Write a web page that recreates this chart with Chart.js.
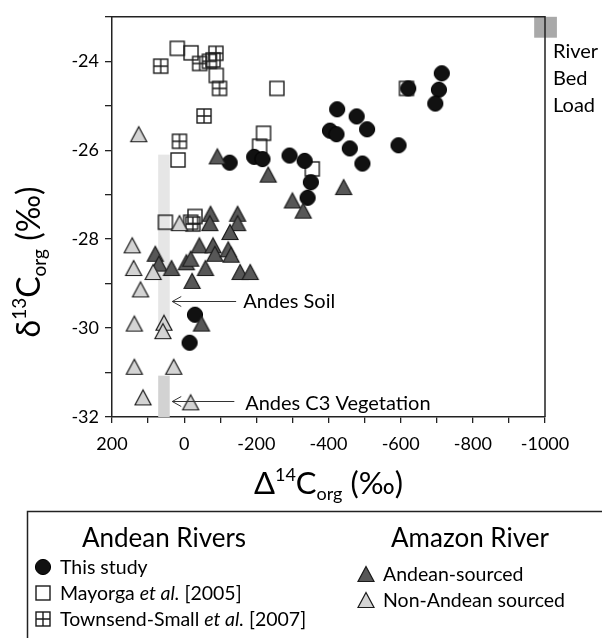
<!DOCTYPE html>
<html>
<head>
<meta charset="utf-8">
<script src="https://cdn.jsdelivr.net/npm/chart.js@4.4.0/dist/chart.umd.min.js"></script>
<style>
  html, body { margin: 0; padding: 0; background: #fff; }
  #wrap { position: relative; width: 602px; height: 638px; }
</style>
</head>
<body>
<div id="wrap"><canvas id="chart" width="602" height="638"></canvas></div>
<script>
// Δ14C (x) / δ13C (y) of organic carbon, both in ‰
const thisStudyD14C = [-126, -194, -217, -292, -334, -351, -342, -424, -478, -507, -404, -422, -459, -494, -594, -621, -714, -706, -696, -30, -15];
const thisStudyD13C = [-26.28, -26.15, -26.2, -26.12, -26.24, -26.72, -27.07, -25.08, -25.24, -25.53, -25.56, -25.64, -25.96, -26.3, -25.89, -24.61, -24.27, -24.64, -24.95, -29.7, -30.33];

const mayorgaD14C = [19, -19, -80, -89, -257, -220, -209, 17, -355, -616, 52, -30, -18];
const mayorgaD13C = [-23.71, -23.81, -23.97, -24.32, -24.61, -25.62, -25.91, -26.22, -26.42, -24.61, -27.62, -27.49, -27.62];

const townsendD14C = [65, -43, -70, -88, -98, -55, 13, -24];
const townsendD13C = [-24.11, -24.05, -24.0, -23.82, -24.61, -25.23, -25.8, -27.66];

const andeanSourcedD14C = [-92, -233, -300, -330, -442, -73, -71, -148, -148, -127, -42, -80, -85, -122, -130, 80, 70, 35, -6, -18, -59, -155, -183, -22, -48];
const andeanSourcedD13C = [-26.14, -26.55, -27.13, -27.36, -26.83, -27.43, -27.64, -27.43, -27.64, -27.84, -28.14, -28.14, -28.33, -28.23, -28.35, -28.33, -28.55, -28.65, -28.52, -28.44, -28.65, -28.74, -28.74, -28.94, -29.9];

const nonAndeanD14C = [126, 13, 144, 140, 86, 121, 138, 56, 59, 138, 29, 114, -18];
const nonAndeanD13C = [-25.64, -27.64, -28.14, -28.65, -28.74, -29.13, -29.9, -29.88, -30.07, -30.87, -30.87, -31.56, -31.67];

// end-member ranges [Δ14C from, to] and [δ13C from, to]
const andesSoilD14C = [72, 40];
const andesSoilD13C = [-26.1, -30.0];
const andesC3D14C = [72, 40];
const andesC3D13C = [-31.07, -32.0];
const bedLoadD14C = [-970, -1033];
const bedLoadD13C = [-23.0, -23.47];

// axis ranges
const xMin = -1000, xMax = 200;
const yMin = -32, yMax = -23;

const FONT = 'Lato, "Open Sans", sans-serif';

function zip(xs, ys) {
  return xs.map((x, i) => ({ x: x, y: ys[i] }));
}

// marker images used as pointStyle
function makeMarker(kind) {
  const c = document.createElement('canvas');
  c.width = 20; c.height = 20;
  const g = c.getContext('2d');
  if (kind === 'circle') {
    g.beginPath();
    g.arc(10, 10, 7.6, 0, Math.PI * 2);
    g.fillStyle = '#111';
    g.fill();
    g.lineWidth = 1;
    g.strokeStyle = '#000';
    g.stroke();
  } else if (kind === 'square' || kind === 'plus') {
    g.lineWidth = 1.4;
    g.strokeStyle = '#1a1a1a';
    g.strokeRect(3, 3, 14, 14);
    if (kind === 'plus') {
      g.beginPath();
      g.moveTo(10, 3); g.lineTo(10, 17);
      g.moveTo(3, 10); g.lineTo(17, 10);
      g.stroke();
    }
  } else {
    g.beginPath();
    g.moveTo(10, 2.5);
    g.lineTo(18, 17.5);
    g.lineTo(2, 17.5);
    g.closePath();
    g.fillStyle = kind === 'dark' ? '#575757' : '#d4d4d4';
    g.fill();
    g.lineWidth = 1.2;
    g.strokeStyle = '#1a1a1a';
    g.stroke();
  }
  return c;
}

const markers = {
  circle: makeMarker('circle'),
  square: makeMarker('square'),
  plus: makeMarker('plus'),
  dark: makeMarker('dark'),
  light: makeMarker('light')
};

// text with super/subscripts, runs = [{t, size, dy, italic}]
function drawRuns(ctx, runs, x, y, align) {
  let total = 0;
  runs.forEach(r => {
    ctx.font = (r.italic ? 'italic ' : '') + r.size + 'px ' + FONT;
    r.w = ctx.measureText(r.t).width;
    total += r.w;
  });
  let cx = align === 'center' ? x - total / 2 : x;
  ctx.textAlign = 'left';
  ctx.textBaseline = 'alphabetic';
  runs.forEach(r => {
    ctx.font = (r.italic ? 'italic ' : '') + r.size + 'px ' + FONT;
    ctx.fillText(r.t, cx, y + (r.dy || 0));
    cx += r.w;
  });
}

// shaded ranges and the frame around the plot
const rangesPlugin = {
  id: 'ranges',
  beforeDatasetsDraw(chart) {
    const { ctx, scales: { x, y }, chartArea } = chart;
    const box = (xs, ys, color) => {
      const x0 = x.getPixelForValue(xs[0]), x1 = x.getPixelForValue(xs[1]);
      const y0 = y.getPixelForValue(ys[0]), y1 = y.getPixelForValue(ys[1]);
      ctx.fillStyle = color;
      ctx.fillRect(Math.min(x0, x1), Math.min(y0, y1), Math.abs(x1 - x0), Math.abs(y1 - y0));
    };
    ctx.save();
    box(andesSoilD14C, andesSoilD13C, '#e6e6e6');
    box(andesC3D14C, andesC3D13C, '#d2d2d2');
    box(bedLoadD14C, bedLoadD13C, '#a9a9a9');
    // top and right frame lines
    ctx.strokeStyle = '#222';
    ctx.lineWidth = 1.5;
    ctx.beginPath();
    ctx.moveTo(chartArea.left, chartArea.top);
    ctx.lineTo(chartArea.right, chartArea.top);
    ctx.lineTo(chartArea.right, chartArea.bottom);
    ctx.stroke();
    ctx.restore();
  }
};

// arrows, labels, axis titles and legend
const labelsPlugin = {
  id: 'labels',
  afterDraw(chart) {
    const { ctx, scales: { x, y }, chartArea } = chart;
    ctx.save();
    ctx.fillStyle = '#000';

    const arrow = (fromX, toX, atY) => {
      const px0 = x.getPixelForValue(fromX), px1 = x.getPixelForValue(toX);
      const py = Math.round(y.getPixelForValue(atY)) + 0.5;
      ctx.strokeStyle = '#333';
      ctx.lineWidth = 1;
      ctx.beginPath();
      ctx.moveTo(px0, py);
      ctx.lineTo(px1, py);
      ctx.moveTo(px1 + 9, py - 5);
      ctx.lineTo(px1, py);
      ctx.lineTo(px1 + 9, py + 5);
      ctx.stroke();
    };
    arrow(-144, 33, -29.39);
    arrow(-139, 33, -31.65);

    ctx.font = '20px ' + FONT;
    ctx.textAlign = 'left';
    ctx.textBaseline = 'middle';
    ctx.fillText('Andes Soil', x.getPixelForValue(-164), y.getPixelForValue(-29.39) + 1);
    ctx.fillText('Andes C3 Vegetation', x.getPixelForValue(-169), y.getPixelForValue(-31.65) + 2);

    // bed load label beside the frame
    ctx.font = '20px ' + FONT;
    ctx.fillText('River', chartArea.right + 8, 52);
    ctx.fillText('Bed', chartArea.right + 8, 79);
    ctx.fillText('Load', chartArea.right + 8, 106);

    // x title
    const cxTitle = (chartArea.left + chartArea.right) / 2;
    drawRuns(ctx, [
      { t: 'Δ', size: 31 },
      { t: '14', size: 18, dy: -13 },
      { t: 'C', size: 31 },
      { t: 'org', size: 18, dy: 6 },
      { t: ' (‰)', size: 31 }
    ], cxTitle, 494, 'center');

    // y title
    ctx.save();
    ctx.translate(40, 262);
    ctx.rotate(-Math.PI / 2);
    drawRuns(ctx, [
      { t: 'δ', size: 32 },
      { t: '13', size: 19, dy: -14 },
      { t: 'C', size: 32 },
      { t: 'org', size: 19, dy: 6 },
      { t: ' (‰)', size: 32 }
    ], 0, 0, 'center');
    ctx.restore();

    // legend box
    ctx.strokeStyle = '#222';
    ctx.lineWidth = 1.5;
    ctx.strokeRect(27.5, 511.5, 620, 200);

    ctx.textBaseline = 'alphabetic';
    ctx.textAlign = 'center';
    ctx.font = '26px ' + FONT;
    ctx.fillText('Andean Rivers', 164, 547);
    ctx.fillText('Amazon River', 470, 547);

    const stamp = (img, px, py) => ctx.drawImage(img, px - 10, py - 10);
    const item = (img, mx, my, runs) => {
      stamp(img, mx, my);
      drawRuns(ctx, runs, mx + 17, my + 7, 'left');
    };
    item(markers.circle, 43, 567, [{ t: 'This study', size: 19.5 }]);
    item(markers.square, 43, 593, [{ t: 'Mayorga ', size: 19.5 }, { t: 'et al.', size: 19.5, italic: true }, { t: ' [2005]', size: 19.5 }]);
    item(markers.plus, 43, 619, [{ t: 'Townsend-Small ', size: 19.5 }, { t: 'et al.', size: 19.5, italic: true }, { t: ' [2007]', size: 19.5 }]);
    item(markers.dark, 366, 574, [{ t: 'Andean-sourced', size: 19.5 }]);
    item(markers.light, 366, 600, [{ t: 'Non-Andean sourced', size: 19.5 }]);

    ctx.restore();
  }
};

const ctx = document.getElementById('chart').getContext('2d');
new Chart(ctx, {
  type: 'scatter',
  data: {
    datasets: [
      { label: 'Non-Andean sourced', data: zip(nonAndeanD14C, nonAndeanD13C), pointStyle: markers.light, order: 0 },
      { label: 'Andean-sourced', data: zip(andeanSourcedD14C, andeanSourcedD13C), pointStyle: markers.dark, order: 1 },
      { label: 'This study', data: zip(thisStudyD14C, thisStudyD13C), pointStyle: markers.circle, order: 2 },
      { label: 'Townsend-Small et al. [2007]', data: zip(townsendD14C, townsendD13C), pointStyle: markers.plus, order: 3 },
      { label: 'Mayorga et al. [2005]', data: zip(mayorgaD14C, mayorgaD13C), pointStyle: markers.square, order: 4 }
    ]
  },
  options: {
    responsive: false,
    animation: false,
    devicePixelRatio: 1,
    events: [],
    layout: { padding: { top: 14, right: 57, left: 0, bottom: 0 } },
    plugins: {
      legend: { display: false },
      tooltip: { enabled: false }
    },
    scales: {
      x: {
        type: 'linear',
        min: xMin,
        max: xMax,
        reverse: true,
        afterFit(scale) { scale.height = 221; },
        grid: { display: true, drawOnChartArea: false, drawTicks: true, tickLength: 6, color: '#222', lineWidth: 1.3 },
        border: { display: true, color: '#222', width: 1.5 },
        ticks: {
          stepSize: 100,
          autoSkip: false,
          maxRotation: 0,
          padding: 10,
          color: '#000',
          font: { family: FONT, size: 18 },
          callback: v => (v % 200 === 0 ? String(v) : '')
        }
      },
      y: {
        type: 'linear',
        min: yMin,
        max: yMax,
        afterFit(scale) { scale.width = 112; },
        grid: { display: true, drawOnChartArea: false, drawTicks: true, tickLength: 7, color: '#222', lineWidth: 1.3 },
        border: { display: true, color: '#222', width: 1.5 },
        ticks: {
          stepSize: 1,
          autoSkip: false,
          padding: 6,
          color: '#000',
          font: { family: FONT, size: 18 },
          callback: v => (v % 2 === 0 ? String(v) : '')
        }
      }
    }
  },
  plugins: [rangesPlugin, labelsPlugin]
});
</script>
</body>
</html>
